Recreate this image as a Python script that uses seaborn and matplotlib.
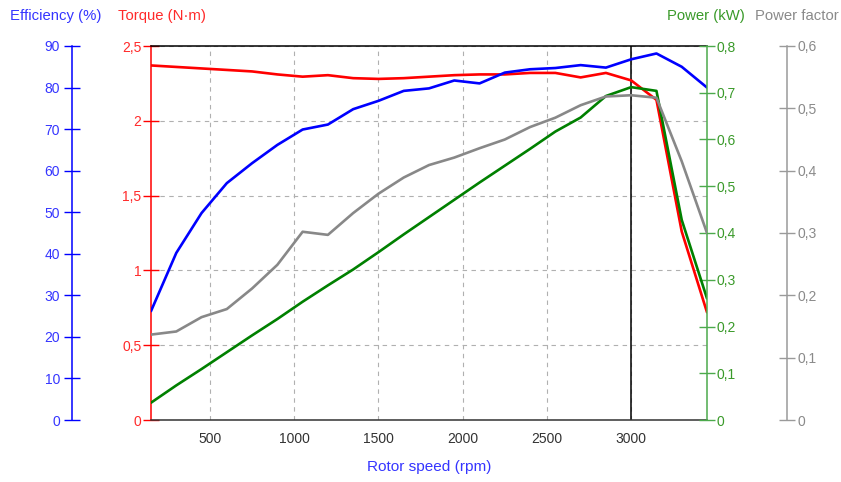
import matplotlib
matplotlib.use("Agg")
import matplotlib.pyplot as plt
from matplotlib.ticker import FuncFormatter, MultipleLocator
import seaborn as sns
import pandas as pd

# Motor test: rotor speed sweep
rpm = [150, 300, 450, 600, 750, 900, 1050, 1200, 1350, 1500, 1650, 1800,
       1950, 2100, 2250, 2400, 2550, 2700, 2850, 3000, 3150, 3300, 3450]
torque_nm = [2.37, 2.36, 2.35, 2.34, 2.33, 2.31, 2.295, 2.305, 2.285, 2.28, 2.285, 2.295,
             2.305, 2.31, 2.31, 2.32, 2.32, 2.29, 2.32, 2.27, 2.14, 1.26, 0.72]
efficiency_pct = [26.2, 40.2, 49.8, 57.0, 61.8, 66.2, 69.9, 71.1, 74.8, 76.8, 79.2, 79.8,
                  81.7, 81.0, 83.6, 84.4, 84.7, 85.4, 84.8, 86.8, 88.2, 85.0, 80.0]
power_kw = [0.037, 0.074, 0.109, 0.145, 0.181, 0.216, 0.253, 0.288, 0.322, 0.359, 0.397, 0.434,
            0.471, 0.508, 0.544, 0.580, 0.617, 0.647, 0.693, 0.712, 0.704, 0.428, 0.260]
power_factor = [0.137, 0.142, 0.165, 0.178, 0.211, 0.249, 0.302, 0.297, 0.332, 0.363, 0.389, 0.409,
                0.421, 0.436, 0.450, 0.470, 0.485, 0.505, 0.519, 0.521, 0.517, 0.415, 0.300]
x_ticks = [500, 1000, 1500, 2000, 2500, 3000]
rated_speed = 3000

df = pd.DataFrame({"rpm": rpm, "torque": torque_nm, "eff": efficiency_pct,
                   "power": power_kw, "pf": power_factor})

sns.set_style("white")
plt.rcParams["font.family"] = ["Liberation Sans", "DejaVu Sans"]
plt.rcParams["font.size"] = 10

BLUE, BLUE_TXT = "#0000ff", "#3535ff"
RED, RED_TXT = "#ff0000", "#ff2a2a"
GREEN_LINE, GREEN_AX, GREEN_TXT = "#008000", "#4caa4c", "#3a9a2a"
GRAY_LINE, GRAY_AX, GRAY_TXT = "#888888", "#9a9a9a", "#8a8a8a"
TITLE_SIZE = 10.7


def comma(v, _pos):
    return f"{v:g}".replace(".", ",")


W, H = 841, 482
fig = plt.figure(figsize=(W / 100, H / 100), dpi=100)
ax = fig.add_axes([151 / W, 62 / H, 556 / W, 374 / H])
ax_eff = ax.twinx()
ax_pow = ax.twinx()
ax_pf = ax.twinx()

lw = 1.9
sns.lineplot(data=df, x="rpm", y="torque", ax=ax, color=RED, lw=lw)
ax.axvline(rated_speed, color="black", lw=1.1, zorder=1.5)
sns.lineplot(data=df, x="rpm", y="pf", ax=ax_pf, color=GRAY_LINE, lw=lw)
sns.lineplot(data=df, x="rpm", y="power", ax=ax_pow, color=GREEN_LINE, lw=lw)
sns.lineplot(data=df, x="rpm", y="eff", ax=ax_eff, color=BLUE, lw=lw)

ax.set_xlim(rpm[0], rpm[-1])
ax.set_ylim(0, 2.5)
ax_eff.set_ylim(0, 90)
ax_pow.set_ylim(0, 0.8)
ax_pf.set_ylim(0, 0.6)

# host axis: torque + grid
ax.set_xticks(x_ticks)
ax.yaxis.set_major_locator(MultipleLocator(0.5))
ax.yaxis.set_major_formatter(FuncFormatter(comma))
ax.grid(True, color="#b0b0b0", lw=0.8, ls=(0, (4, 4)))
for s in ["left", "top", "bottom"]:
    ax.spines[s].set_visible(True)
ax.spines["right"].set_visible(False)
ax.spines["left"].set_color(RED)
ax.spines["left"].set_linewidth(1.1)
ax.spines["top"].set_color("black")
ax.spines["top"].set_linewidth(1.1)
ax.spines["bottom"].set_color("#333333")
ax.spines["bottom"].set_linewidth(1.1)
ax.tick_params(axis="y", direction="inout", length=11, width=1, color=RED,
               labelcolor=RED_TXT, pad=1.5)
ax.tick_params(axis="x", direction="inout", length=10, width=1, color="#222222",
               labelcolor="#333333", pad=3.5)
ax.set_ylabel("")
ax.set_xlabel("Rotor speed (rpm)", color=BLUE_TXT, fontsize=TITLE_SIZE + 0.4, labelpad=10)

# efficiency axis, far left
for s in ax_eff.spines.values():
    s.set_visible(False)
ax_eff.spines["left"].set_visible(True)
ax_eff.spines["left"].set_position(("outward", 57))
ax_eff.spines["left"].set_color(BLUE)
ax_eff.spines["left"].set_linewidth(1.1)
ax_eff.yaxis.set_ticks_position("left")
ax_eff.yaxis.set_label_position("left")
ax_eff.yaxis.set_major_locator(MultipleLocator(10))
ax_eff.tick_params(axis="y", direction="inout", length=11, width=1, color=BLUE,
                   labelcolor=BLUE_TXT, pad=3)
ax_eff.set_ylabel("")

# power axis, right edge of the plot
for s in ax_pow.spines.values():
    s.set_visible(False)
ax_pow.spines["right"].set_visible(True)
ax_pow.spines["right"].set_color(GREEN_AX)
ax_pow.spines["right"].set_linewidth(1.1)
ax_pow.yaxis.set_major_locator(MultipleLocator(0.1))
ax_pow.yaxis.set_major_formatter(FuncFormatter(comma))
ax_pow.tick_params(axis="y", direction="inout", length=11, width=1, color=GREEN_AX,
                   labelcolor=GREEN_TXT, pad=1.5)
ax_pow.set_ylabel("")

# power factor axis, far right
for s in ax_pf.spines.values():
    s.set_visible(False)
ax_pf.spines["right"].set_visible(True)
ax_pf.spines["right"].set_position(("outward", 57.5))
ax_pf.spines["right"].set_color(GRAY_AX)
ax_pf.spines["right"].set_linewidth(1.1)
ax_pf.yaxis.set_major_locator(MultipleLocator(0.1))
ax_pf.yaxis.set_major_formatter(FuncFormatter(comma))
ax_pf.tick_params(axis="y", direction="inout", length=11, width=1, color=GRAY_AX,
                  labelcolor=GRAY_TXT, pad=2)
ax_pf.set_ylabel("")

# axis titles along the top
ty = 1 - 16 / H
fig.text(10 / W, ty, "Efficiency (%)", color=BLUE_TXT, fontsize=TITLE_SIZE, ha="left", va="center")
fig.text(118 / W, ty, "Torque (N·m)", color=RED_TXT, fontsize=TITLE_SIZE, ha="left", va="center")
fig.text(745 / W, ty, "Power (kW)", color=GREEN_TXT, fontsize=TITLE_SIZE, ha="right", va="center")
fig.text(839 / W, ty, "Power factor", color=GRAY_TXT, fontsize=TITLE_SIZE, ha="right", va="center")

fig.savefig("out.png", dpi=100)
